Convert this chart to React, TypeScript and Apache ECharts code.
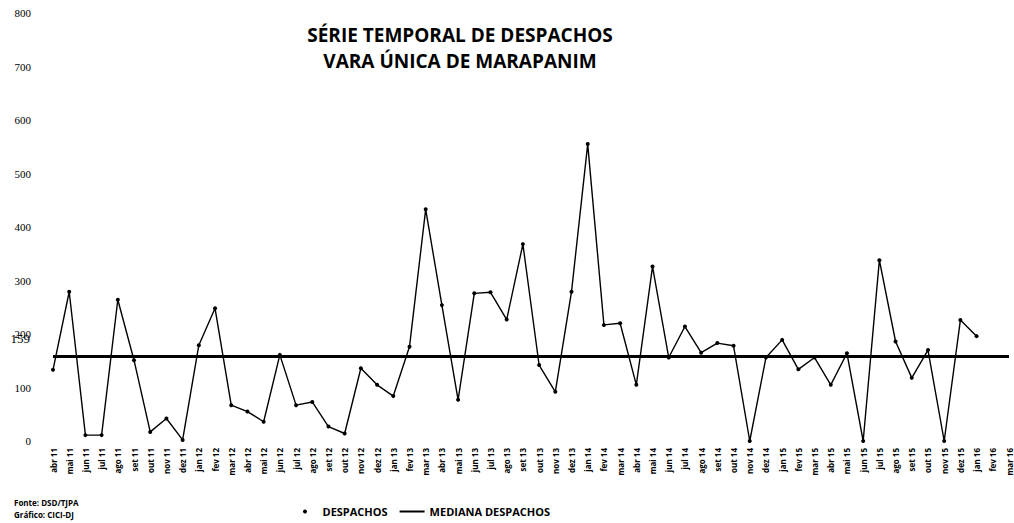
import React, { useEffect, useRef } from "react";
import * as echarts from "echarts";

const categories = [
  "abr 11", "mai 11", "jun 11", "jul 11", "ago 11", "set 11", "out 11", "nov 11", "dez 11",
  "jan 12", "fev 12", "mar 12", "abr 12", "mai 12", "jun 12", "jul 12", "ago 12", "set 12", "out 12", "nov 12", "dez 12",
  "jan 13", "fev 13", "mar 13", "abr 13", "mai 13", "jun 13", "jul 13", "ago 13", "set 13", "out 13", "nov 13", "dez 13",
  "jan 14", "fev 14", "mar 14", "abr 14", "mai 14", "jun 14", "jul 14", "ago 14", "set 14", "out 14", "nov 14", "dez 14",
  "jan 15", "fev 15", "mar 15", "abr 15", "mai 15", "jun 15", "jul 15", "ago 15", "set 15", "out 15", "nov 15", "dez 15",
  "jan 16", "fev 16", "mar 16",
];

const despachos = [
  133, 279, 11, 11, 264, 151, 17, 42, 2,
  179, 248, 67, 55, 36, 161, 67, 73, 27, 14, 136, 105,
  84, 176, 433, 254, 77, 276, 278, 227, 368, 142, 92, 279,
  555, 217, 220, 105, 326, 156, 214, 165, 183, 178, 0, 156,
  189, 134, 156, 105, 164, 0, 338, 186, 118, 170, 0, 226,
  196,
];

const mediana = 159;
const yTicks = [0, 800, 100];

const TITLE_FONT = "'Open Sans', 'Noto Sans', sans-serif";

export default function App() {
  const ref = useRef<HTMLDivElement>(null);

  useEffect(() => {
    if (!ref.current) return;
    const chart = echarts.init(ref.current, undefined, { renderer: "svg" });
    chart.setOption({
      animation: false,
      backgroundColor: "#ffffff",
      grid: { left: 53, right: 5, top: 13, bottom: 82, containLabel: false },
      xAxis: {
        type: "category",
        data: categories,
        boundaryGap: false,
        axisLine: { show: false },
        axisTick: { show: false },
        splitLine: { show: false },
        axisLabel: {
          interval: 0,
          rotate: 90,
          margin: 7,
          color: "#000",
          fontSize: 8,
          fontWeight: "bold",
          fontFamily: TITLE_FONT,
        },
      },
      yAxis: {
        type: "value",
        min: yTicks[0],
        max: yTicks[1],
        interval: yTicks[2],
        axisLine: { show: false },
        axisTick: { show: false },
        splitLine: { show: false },
        axisLabel: {
          margin: 22,
          color: "#000",
          fontSize: 11,
          fontFamily: "'Liberation Serif', 'DejaVu Serif', serif",
        },
      },
      legend: {
        left: 298,
        top: 501,
        itemWidth: 25,
        itemHeight: 4,
        itemGap: 12,
        textStyle: {
          color: "#000",
          fontSize: 11,
          fontWeight: "bold",
          fontFamily: TITLE_FONT,
        },
        data: [
          { name: "DESPACHOS", icon: "circle" },
          { name: "MEDIANA DESPACHOS", icon: "path://M0,0 L25,0 L25,2 L0,2 Z" },
        ],
      },
      series: [
        {
          name: "DESPACHOS",
          type: "line",
          data: despachos,
          symbol: "circle",
          symbolSize: 4,
          showSymbol: true,
          itemStyle: { color: "#000" },
          lineStyle: { color: "#000", width: 1.4 },
          z: 3,
        },
        {
          name: "MEDIANA DESPACHOS",
          type: "line",
          data: [],
          itemStyle: { color: "#000" },
          lineStyle: { color: "#000", width: 3 },
          markLine: {
            silent: true,
            symbol: "none",
            label: { show: false },
            lineStyle: { color: "#000", width: 3, type: "solid" },
            data: [{ yAxis: mediana }],
          },
          z: 2,
        },
      ],
      graphic: [
        {
          type: "text",
          x: 460,
          y: 22,
          style: {
            text: "SÉRIE TEMPORAL DE DESPACHOS\nVARA ÚNICA DE MARAPANIM",
            align: "center",
            verticalAlign: "top",
            fill: "#000",
            font: `bold 19px ${TITLE_FONT}`,
            lineHeight: 26,
          },
        },
        {
          type: "text",
          x: 30,
          y: 338,
          style: {
            text: String(mediana),
            align: "right",
            verticalAlign: "middle",
            fill: "#000",
            font: "13px 'Liberation Serif', serif",
          },
        },
        {
          type: "text",
          x: 14,
          y: 498,
          style: {
            text: "Fonte: DSD/TJPA",
            fill: "#000",
            font: `bold 8px ${TITLE_FONT}`,
          },
        },
        {
          type: "text",
          x: 14,
          y: 510,
          style: {
            text: "Gráfico: CICI-DJ",
            fill: "#000",
            font: `bold 8px ${TITLE_FONT}`,
          },
        },
      ],
    });
    return () => chart.dispose();
  }, []);

  return (
    <div
      ref={ref}
      style={{ position: "fixed", left: 0, top: 0, width: 1014, height: 523, background: "#fff" }}
    />
  );
}
